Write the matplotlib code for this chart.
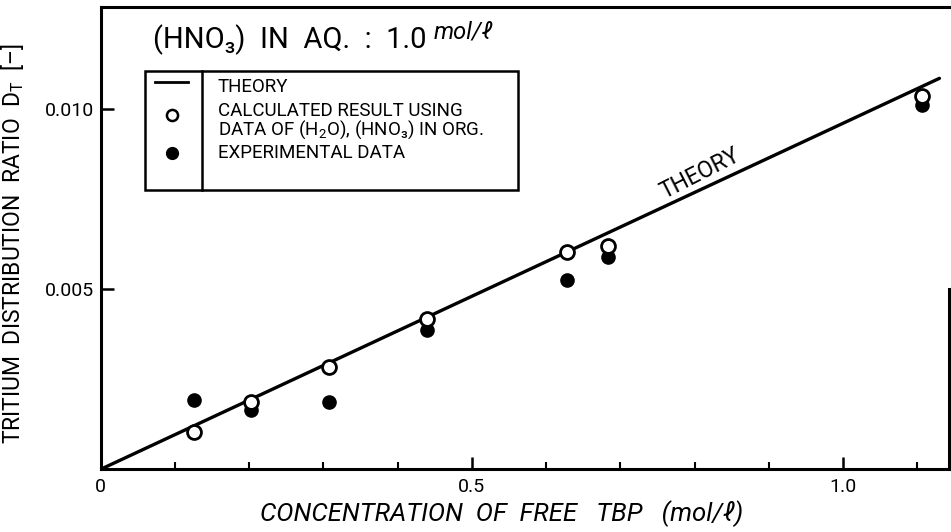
import matplotlib
matplotlib.use('Agg')
import numpy as np
import matplotlib.pyplot as plt
from matplotlib.patches import Rectangle

plt.rcParams['font.family'] = ['Roboto', 'DejaVu Sans']
plt.rcParams['mathtext.fontset'] = 'custom'
plt.rcParams['mathtext.rm'] = 'Roboto'

# 数据
tbp = [0.125, 0.202, 0.307, 0.439, 0.628, 0.683, 1.106]
calc_dt = [0.00103, 0.00187, 0.00283, 0.00417, 0.00603, 0.00619, 0.01036]
exp_dt = [0.00192, 0.00164, 0.00186, 0.00386, 0.00525, 0.00589, 0.01012]
theory_x = [0.0, 1.13]
theory_slope = 0.0096
theory_y = [theory_slope * v for v in theory_x]

x_ticks = [0, 0.5, 1.0]
x_ticklabels = ['0', '0.5', '1.0']
y_ticks = [0.005, 0.010]
y_ticklabels = ['0.005', '0.010']

fig = plt.figure(figsize=(9.51, 5.32), dpi=100)
ax = fig.add_axes([0.106, 0.118, 0.892, 0.869])

ax.plot(theory_x, theory_y, color='black', lw=2.4, solid_capstyle='round')
ax.plot(tbp, exp_dt, 'o', color='black', ms=9.5, zorder=3)
ax.plot(tbp, calc_dt, 'o', mfc='white', mec='black', mew=2.0, ms=10, zorder=4)

ax.set_xlim(0, 1.143)
ax.set_ylim(0, 0.01283)

ax.set_xticks(x_ticks)
ax.set_xticklabels(x_ticklabels)
ax.set_xticks(np.arange(0.1, 1.15, 0.1), minor=True)
ax.set_yticks(y_ticks)
ax.set_yticklabels(y_ticklabels)
ax.tick_params(axis='both', which='major', direction='in', length=9, width=1.8, labelsize=14)
ax.tick_params(axis='x', which='major', pad=6)
ax.tick_params(axis='y', which='major', pad=5)
ax.tick_params(axis='x', which='minor', direction='in', length=5, width=1.5)

for s in ax.spines.values():
    s.set_linewidth(2.2)
ax.spines['right'].set_bounds(0, 0.005)

ax.set_xlabel('CONCENTRATION  OF  FREE   TBP   (mol/ℓ)', fontsize=18.5, style='italic')
ax.xaxis.set_label_coords(0.473, -0.066)
ax.set_ylabel('TRITIUM  DISTRIBUTION  RATIO  D$_\\mathregular{T}$  [–]', fontsize=16.5)
ax.yaxis.set_label_coords(-0.088, 0.489)

# THEORY 标注
ax.text(0.815, theory_slope * 0.815 + 0.0001, 'THEORY', fontsize=16.5, rotation=27,
        rotation_mode='anchor', ha='center', va='bottom')

# 标题文字
ax.text(0.061, 0.929, '(HNO₃)  IN  AQ.  :  1.0', transform=ax.transAxes,
        fontsize=21, ha='left', va='center')
ax.text(0.392, 0.945, 'mol/ℓ', transform=ax.transAxes, fontsize=17,
        style='italic', ha='left', va='center')

# 图例 (手工画框)
ax.add_patch(Rectangle((0.052, 0.604), 0.440, 0.257, transform=ax.transAxes,
                       fill=False, ec='black', lw=1.8, clip_on=False))
ax.plot([0.119, 0.119], [0.604, 0.861], transform=ax.transAxes, color='black', lw=1.8)
ax.plot([0.064, 0.103], [0.838, 0.838], transform=ax.transAxes, color='black', lw=2)
ax.plot([0.084], [0.766], 'o', transform=ax.transAxes, mfc='white', mec='black', mew=1.8, ms=8)
ax.plot([0.084], [0.684], 'o', transform=ax.transAxes, color='black', ms=8.5)
ax.text(0.138, 0.826, 'THEORY', transform=ax.transAxes, fontsize=13.5, va='center')
ax.text(0.138, 0.752, 'CALCULATED RESULT USING\nDATA OF (H$_\\mathregular{2}$O), (HNO₃) IN ORG.',
        transform=ax.transAxes, fontsize=13.5, va='center', linespacing=0.95)
ax.text(0.138, 0.684, 'EXPERIMENTAL DATA', transform=ax.transAxes, fontsize=13.5, va='center')

plt.savefig('out.png', dpi=100)
